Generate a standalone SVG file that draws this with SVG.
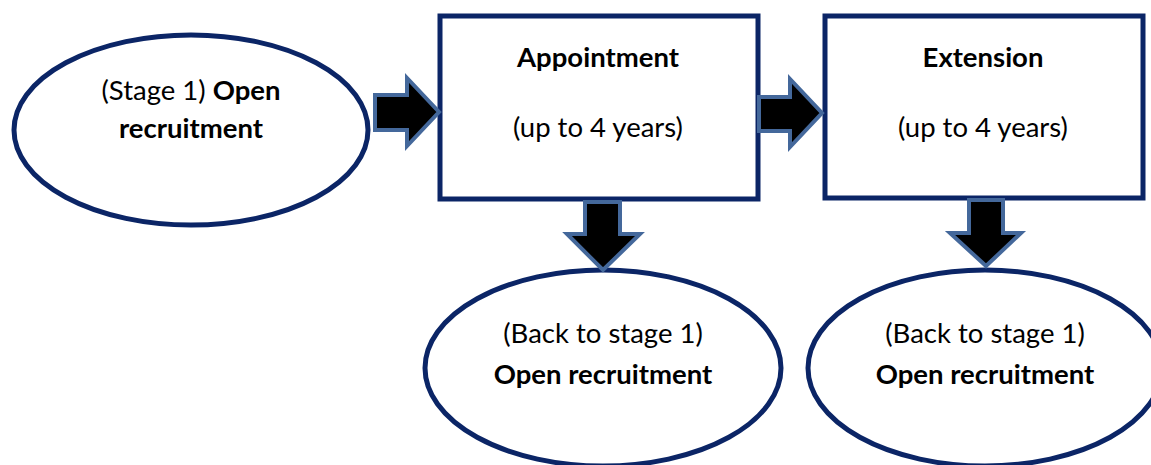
<svg xmlns="http://www.w3.org/2000/svg" width="1151" height="465" viewBox="0 0 1151 465">
<style>
.shape{fill:#fff;stroke:#0b2566;stroke-width:5}
.arrow{fill:#000;stroke:#44689b;stroke-width:4;stroke-linejoin:miter}
text{font-family:Lato,"Open Sans","Liberation Sans",sans-serif;font-size:27.5px;fill:#000;text-anchor:middle}
.b{font-weight:bold}
</style>
<rect width="1151" height="465" fill="#fff"/>
<g id="node-stage1">
<ellipse class="shape" cx="191" cy="130" rx="177" ry="95"/>
<text x="191" y="100">(Stage 1) <tspan class="b">Open</tspan></text>
<text x="191" y="138" class="b">recruitment</text>
</g>
<g id="node-appointment">
<rect class="shape" x="440" y="16" width="318" height="183"/>
<text x="598" y="67" class="b">Appointment</text>
<text x="598" y="137">(up to 4 years)</text>
</g>
<g id="node-extension">
<rect class="shape" x="825" y="16" width="318" height="182"/>
<text x="983" y="67" class="b">Extension</text>
<text x="983" y="137">(up to 4 years)</text>
</g>
<g id="node-back1">
<ellipse class="shape" cx="603" cy="368" rx="178" ry="98"/>
<text x="603" y="343">(Back to stage 1)</text>
<text x="603" y="384" class="b">Open recruitment</text>
</g>
<g id="node-back2">
<ellipse class="shape" cx="985" cy="368" rx="177" ry="98"/>
<text x="985" y="343">(Back to stage 1)</text>
<text x="985" y="384" class="b">Open recruitment</text>
</g>
<g id="connectors">
<polygon class="arrow" points="375,95 407,95 407,78 439,112 407,146 407,130 375,130"/>
<polygon class="arrow" points="759,97 790,97 790,79 822,113 790,147 790,131 759,131"/>
<polygon class="arrow" points="585,202 620,202 620,234 640,234 603,270 567,234 585,234"/>
<polygon class="arrow" points="969,200 1003,200 1003,233 1021,233 986,266 950,233 969,233"/>
</g>
</svg>
